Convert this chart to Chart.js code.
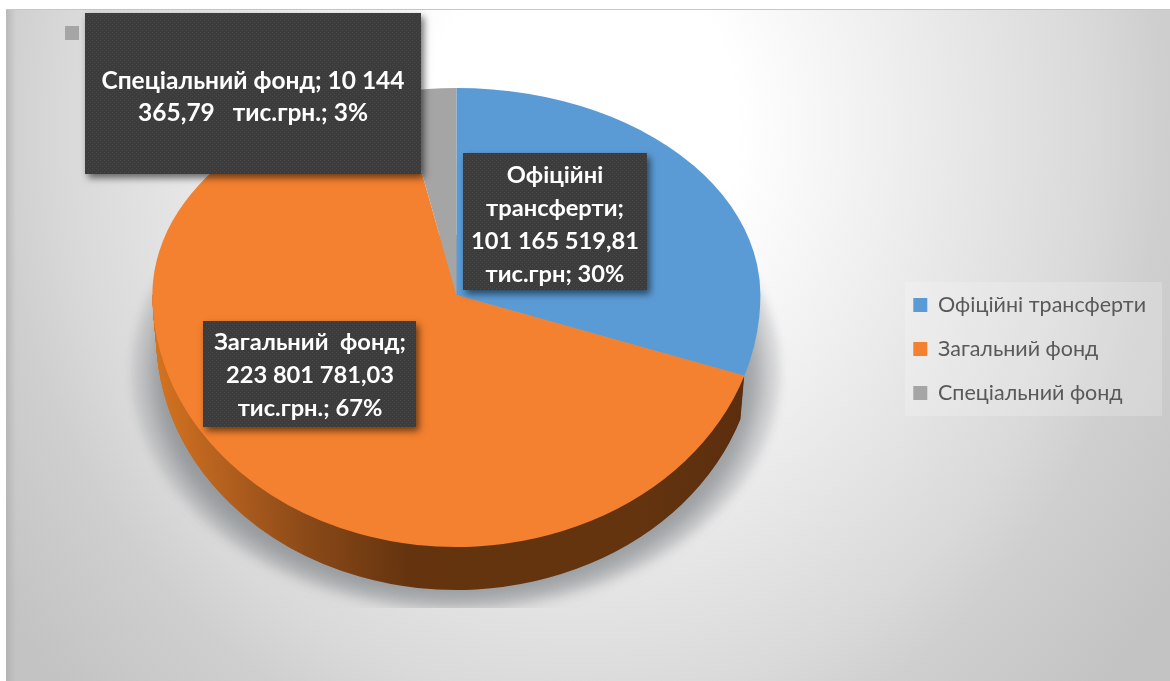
<!DOCTYPE html>
<html lang="uk">
<head>
<meta charset="utf-8">
<style>
html,body{margin:0;padding:0;background:#fff;}
canvas{display:block;}
</style>
<script src="https://cdn.jsdelivr.net/npm/chart.js@4"></script>
</head>
<body>
<canvas id="c" width="1170" height="681"></canvas>
<script>
const categories = ['Офіційні трансферти', 'Загальний фонд', 'Спеціальний фонд'];
const values = [101165519.81, 223801781.03, 10144365.79];
const colors = ['#5b9bd5', '#f4812f', '#a5a5a5'];
const labelLines = [
  ['Офіційні', 'трансферти;', '101 165 519,81', 'тис.грн; 30%'],
  ['Загальний  фонд;', '223 801 781,03', 'тис.грн.; 67%'],
  ['Спеціальний фонд; 10 144', '365,79   тис.грн.; 3%']
];

const APEX_Y = 295, RX = 304, UP = 207, DOWN = 252, DEPTH = 43, SHRINK = 0.013;
const FONT = 'Lato, "Noto Sans", sans-serif';
const boxes = [
  {x:463,y:153,w:184,h:137,cx:555,ys:[175,208,241,274],size:23.7},
  {x:203,y:321,w:213,h:106,cx:310,ys:[342,375,408],size:23.7},
  {x:85,y:13,w:336,h:161,cx:253,ys:[81,113],size:24.5}
];

function dots(ctx){
  const p = document.createElement('canvas'); p.width = p.height = 4;
  const g = p.getContext('2d');
  g.fillStyle = '#3c3c3c'; g.fillRect(0,0,4,4);
  g.fillStyle = '#484848'; g.fillRect(0,0,1,1); g.fillRect(2,2,1,1);
  return ctx.createPattern(p,'repeat');
}

const scene = {
  id:'scene',
  beforeDraw(chart){
    const ctx = chart.ctx, W = chart.width, H = chart.height;
    ctx.save();
    ctx.fillStyle = '#fff'; ctx.fillRect(0,0,W,H);
    ctx.beginPath(); ctx.rect(6,9,W-6,H-9); ctx.clip();
    // elliptical background glow
    ctx.save();
    ctx.translate(580,130); ctx.scale(640,720);
    const g = ctx.createRadialGradient(0,0,0,0,0,1.12);
    g.addColorStop(0,'#ffffff'); g.addColorStop(.22,'#ffffff'); g.addColorStop(.42,'#f0f0f0');
    g.addColorStop(.59,'#e3e3e3'); g.addColorStop(.72,'#d9d9d9'); g.addColorStop(.81,'#cfcfcf'); g.addColorStop(1,'#c3c3c3');
    ctx.fillStyle = g; ctx.fillRect(-2,-2,4,4);
    ctx.restore();
    const edge = ctx.createLinearGradient(6,0,16,0);
    edge.addColorStop(0,'rgba(170,170,170,.6)'); edge.addColorStop(1,'rgba(170,170,170,0)');
    ctx.fillStyle = edge; ctx.fillRect(6,9,10,H);
    ctx.fillStyle = '#c6c6c6'; ctx.fillRect(6,9,W,1);
    // legend panel
    ctx.fillStyle = 'rgba(255,255,255,.2)'; ctx.fillRect(905,282,257,134);
    // legend key stub of the top label
    ctx.fillStyle = colors[2]; ctx.fillRect(65,26,14,14);
    // floor shadow
    ctx.save();
    ctx.beginPath(); ctx.rect(100,235,720,373); ctx.clip();
    ctx.filter = 'blur(5px)';
    ctx.fillStyle = 'rgba(110,115,120,.18)';
    ctx.beginPath(); ctx.ellipse(456,372,324,236,0,0,Math.PI*2); ctx.fill();
    ctx.filter = 'blur(10px)';
    ctx.fillStyle = 'rgba(100,105,110,.5)';
    ctx.beginPath(); ctx.ellipse(456,372,306,230,0,0,Math.PI*2); ctx.fill();
    ctx.restore();
    ctx.restore();
  },
  beforeDatasetsDraw(chart){
    const ctx = chart.ctx, W = chart.width, H = chart.height;
    const arcs = chart.getDatasetMeta(0).data;
    const cx = arcs[0].x, cy = arcs[0].y;
    const side = ctx.createLinearGradient(150,0,760,0);
    side.addColorStop(0,'#d5741f'); side.addColorStop(.12,'#b4601f'); side.addColorStop(.25,'#8c4a18');
    side.addColorStop(.42,'#65340f'); side.addColorStop(.8,'#64340f'); side.addColorStop(1,'#5a2d0e');
    // side wall: repeated offset copies of the large slice, narrowing with depth
    const o = arcs[1].options;
    const sideOpts = Object.create(o); sideOpts.backgroundColor = side; sideOpts.borderWidth = 0;
    ctx.save();
    ctx.beginPath(); ctx.rect(0,APEX_Y,W,H); ctx.clip();
    arcs[1].options = sideOpts;
    for(let k=DEPTH;k>=1;k--){
      ctx.save();
      ctx.translate(cx,APEX_Y+k); ctx.scale(1-SHRINK*k/DEPTH,DOWN/RX); ctx.translate(-cx,-cy);
      arcs[1].draw(ctx);
      ctx.restore();
    }
    arcs[1].options = o;
    ctx.restore();
    // top surface, perspective: the apex sits above the ellipse centre
    [[0,APEX_Y,UP],[APEX_Y,H,DOWN]].forEach(([y0,y1,ry])=>{
      ctx.save();
      ctx.beginPath(); ctx.rect(0,y0,W,y1-y0); ctx.clip();
      ctx.translate(0,APEX_Y); ctx.scale(1,ry/RX); ctx.translate(0,-cy);
      arcs.forEach(a=>a.draw(ctx));
      ctx.restore();
    });
    return false;
  },
  afterDraw(chart){
    const ctx = chart.ctx, pat = dots(ctx);
    boxes.forEach((b,i)=>{
      ctx.save();
      ctx.shadowColor='rgba(0,0,0,.55)'; ctx.shadowBlur=7; ctx.shadowOffsetX=3; ctx.shadowOffsetY=4;
      ctx.fillStyle='#3c3c3c'; ctx.fillRect(b.x,b.y,b.w,b.h);
      ctx.restore();
      ctx.fillStyle=pat; ctx.fillRect(b.x,b.y,b.w,b.h);
      ctx.fillStyle='#ffffff'; ctx.font='bold '+b.size+'px '+FONT;
      ctx.textAlign='center'; ctx.textBaseline='middle';
      labelLines[i].forEach((t,j)=>ctx.fillText(t,b.cx,b.ys[j]));
    });
  }
};

new Chart(document.getElementById('c'),{
  type:'pie',
  data:{labels:categories,datasets:[{data:values,backgroundColor:colors,borderWidth:0}]},
  plugins:[scene],
  options:{
    responsive:false,animation:false,events:[],radius:RX,
    layout:{padding:{top:17,left:22,right:14,bottom:0}},
    plugins:{
      tooltip:{enabled:false},
      legend:{display:true,position:'right',
        labels:{boxWidth:14,boxHeight:14,padding:22.5,color:'#595959',font:{family:FONT,size:21.5}}}
    }
  }
});
</script>
</body>
</html>
